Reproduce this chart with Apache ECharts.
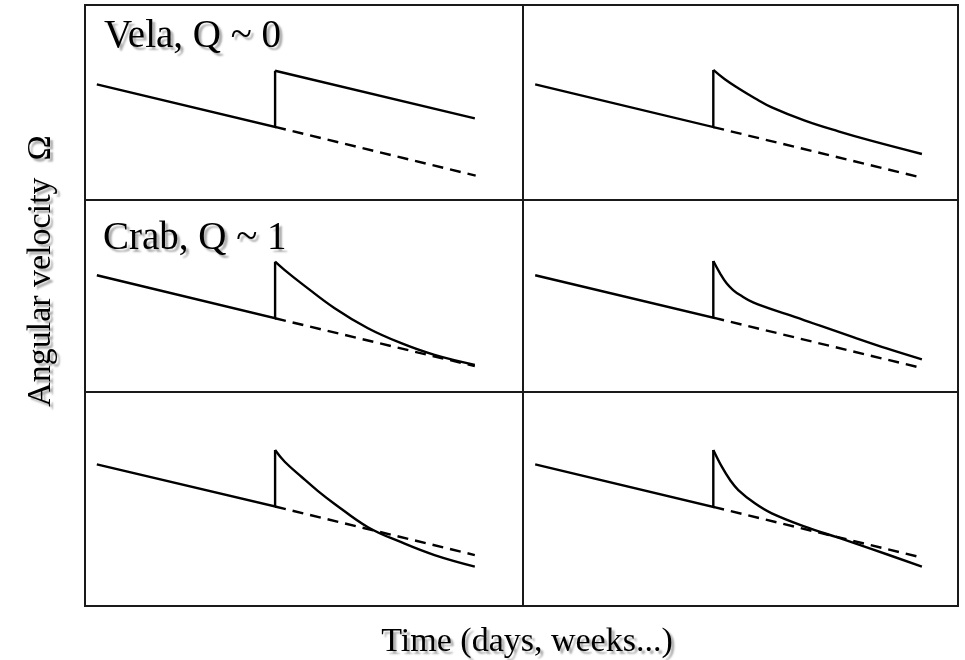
<!DOCTYPE html>
<html>
<head>
<meta charset="utf-8">
<script src="https://cdn.jsdelivr.net/npm/echarts@6/dist/echarts.min.js"></script>
<style>
  html, body { margin: 0; padding: 0; background: #fff; }
  #chart { width: 965px; height: 660px; }
</style>
</head>
<body>
<div id="chart"></div>
<script>
// Pulsar glitch recovery sketches.
// Time runs 0..100 (arbitrary days) across each panel,
// angular velocity runs 0..100 (arbitrary units) up each panel.

// Top left: Vela, Q ~ 0 (step persists)
const velaBefore = [[2.7, 59.3], [43.4, 37.5], [43.4, 66.3]];
const velaAfter  = [[43.4, 66.3], [89.0, 41.9]];
const velaTrend  = [[43.4, 37.5], [89.2, 12.5]];

// Top right: partial recovery
const partialBefore = [[2.8, 59.3], [43.75, 37.4], [43.75, 66.7]];
const partialAfter  = [[43.75, 66.7], [46.4, 61.9], [49.5, 57.3], [53.3, 52.2], [57.2, 47.5],
                       [64.8, 40.7], [72.5, 35.2], [80.2, 30.3], [91.7, 23.6]];
const partialTrend  = [[43.75, 37.4], [90.9, 11.9]];

// Middle left: Crab, Q ~ 1 (full recovery)
const crabBefore = [[2.7, 60.8], [43.4, 38.4], [43.4, 67.9]];
const crabAfter  = [[43.4, 67.9], [45.6, 63.5], [49.4, 56.6], [57.0, 43.6], [64.6, 33.2],
                    [72.2, 25.4], [79.8, 19.3], [89.0, 14.1]];
const crabTrend  = [[43.4, 38.4], [89.0, 13.5]];

// Middle right: fast relaxation, then slow convergence
const kneeBefore = [[2.8, 60.8], [43.75, 38.7], [43.75, 68.2]];
const kneeAfter  = [[43.75, 68.2], [45.3, 61.8], [46.8, 56.6], [48.3, 53.1], [49.9, 50.5],
                    [52.9, 46.7], [60.6, 40.5], [68.3, 34.6], [75.9, 28.6], [83.6, 22.7],
                    [91.7, 17.0]];
const kneeTrend  = [[43.75, 38.7], [90.9, 12.9]];

// Bottom left: overshoot below the extrapolated trend
const overBefore = [[2.7, 66.2], [43.4, 46.5], [43.4, 72.9]];
const overAfter  = [[43.4, 72.9], [45.6, 67.4], [49.4, 60.4], [53.2, 53.7], [57.0, 47.7],
                    [64.6, 36.8], [72.2, 29.8], [79.8, 23.8], [89.0, 18.4]];
const overTrend  = [[43.4, 46.5], [89.0, 23.8]];

// Bottom right: fast overshoot
const fastBefore = [[2.8, 66.2], [43.75, 46.3], [43.75, 72.9]];
const fastAfter  = [[43.75, 72.9], [45.7, 65.1], [47.6, 58.9], [49.5, 54.2], [53.3, 48.0],
                    [57.2, 43.3], [64.8, 37.1], [72.5, 31.9], [80.2, 26.6], [91.7, 18.4]];
const fastTrend  = [[43.75, 46.3], [90.9, 23.0]];

// Panel labels and axis titles
const panelLabels = ['Vela, Q ~ 0', 'Crab, Q ~ 1'];
const xTitle = 'Time (days, weeks...)';
const yTitle = 'Angular velocity  \u03A9';

const panels = [
  { before: velaBefore,    after: velaAfter,    trend: velaTrend,    left: 85,  top: 5,   width: 438, height: 195 },
  { before: partialBefore, after: partialAfter, trend: partialTrend, left: 523, top: 5,   width: 435, height: 195 },
  { before: crabBefore,    after: crabAfter,    trend: crabTrend,    left: 85,  top: 200, width: 438, height: 192 },
  { before: kneeBefore,    after: kneeAfter,    trend: kneeTrend,    left: 523, top: 200, width: 435, height: 192 },
  { before: overBefore,    after: overAfter,    trend: overTrend,    left: 85,  top: 392, width: 438, height: 214 },
  { before: fastBefore,    after: fastAfter,    trend: fastTrend,    left: 523, top: 392, width: 435, height: 214 }
];

const grid = [], xAxis = [], yAxis = [], series = [];
panels.forEach((p, i) => {
  grid.push({
    left: p.left, top: p.top, width: p.width, height: p.height,
    show: true, borderColor: '#1a1a1a', borderWidth: 2, backgroundColor: 'transparent'
  });
  xAxis.push({ gridIndex: i, type: 'value', min: 0, max: 100, show: false });
  yAxis.push({ gridIndex: i, type: 'value', min: 0, max: 100, show: false });
  const solid = { color: '#000', width: 2.4, join: 'miter', cap: 'butt' };
  series.push({
    type: 'line', xAxisIndex: i, yAxisIndex: i, data: p.before,
    showSymbol: false, silent: true, smooth: false, lineStyle: solid
  });
  series.push({
    type: 'line', xAxisIndex: i, yAxisIndex: i, data: p.after,
    showSymbol: false, silent: true, smooth: 0.4, lineStyle: solid
  });
  series.push({
    type: 'line', xAxisIndex: i, yAxisIndex: i, data: p.trend,
    showSymbol: false, silent: true, smooth: false,
    lineStyle: { color: '#000', width: 2.4, type: [11, 7] }
  });
});

const shadow = {
  textShadowColor: 'rgba(0,0,0,0.32)', textShadowBlur: 2,
  textShadowOffsetX: 3, textShadowOffsetY: 3
};
const serif = '"Liberation Serif", "DejaVu Serif", serif';

const graphic = [
  { type: 'text', x: 104, y: 37, style: Object.assign({
      text: panelLabels[0], font: '39px ' + serif, fill: '#000',
      align: 'left', verticalAlign: 'middle' }, shadow) },
  { type: 'text', x: 103, y: 239, style: Object.assign({
      text: panelLabels[1], font: '39px ' + serif, fill: '#000',
      align: 'left', verticalAlign: 'middle' }, shadow) },
  { type: 'text', x: 527, y: 642, style: Object.assign({
      text: xTitle, font: '34px ' + serif, fill: '#000',
      align: 'center', verticalAlign: 'middle' }, shadow) },
  { type: 'text', x: 41, y: 271, rotation: Math.PI / 2, style: Object.assign({
      text: yTitle, font: '34px ' + serif, fill: '#000',
      align: 'center', verticalAlign: 'middle' }, shadow) }
];

const chart = echarts.init(document.getElementById('chart'), null, { renderer: 'canvas' });
chart.setOption({
  backgroundColor: '#fff',
  animation: false,
  grid, xAxis, yAxis, series, graphic
});
</script>
</body>
</html>
